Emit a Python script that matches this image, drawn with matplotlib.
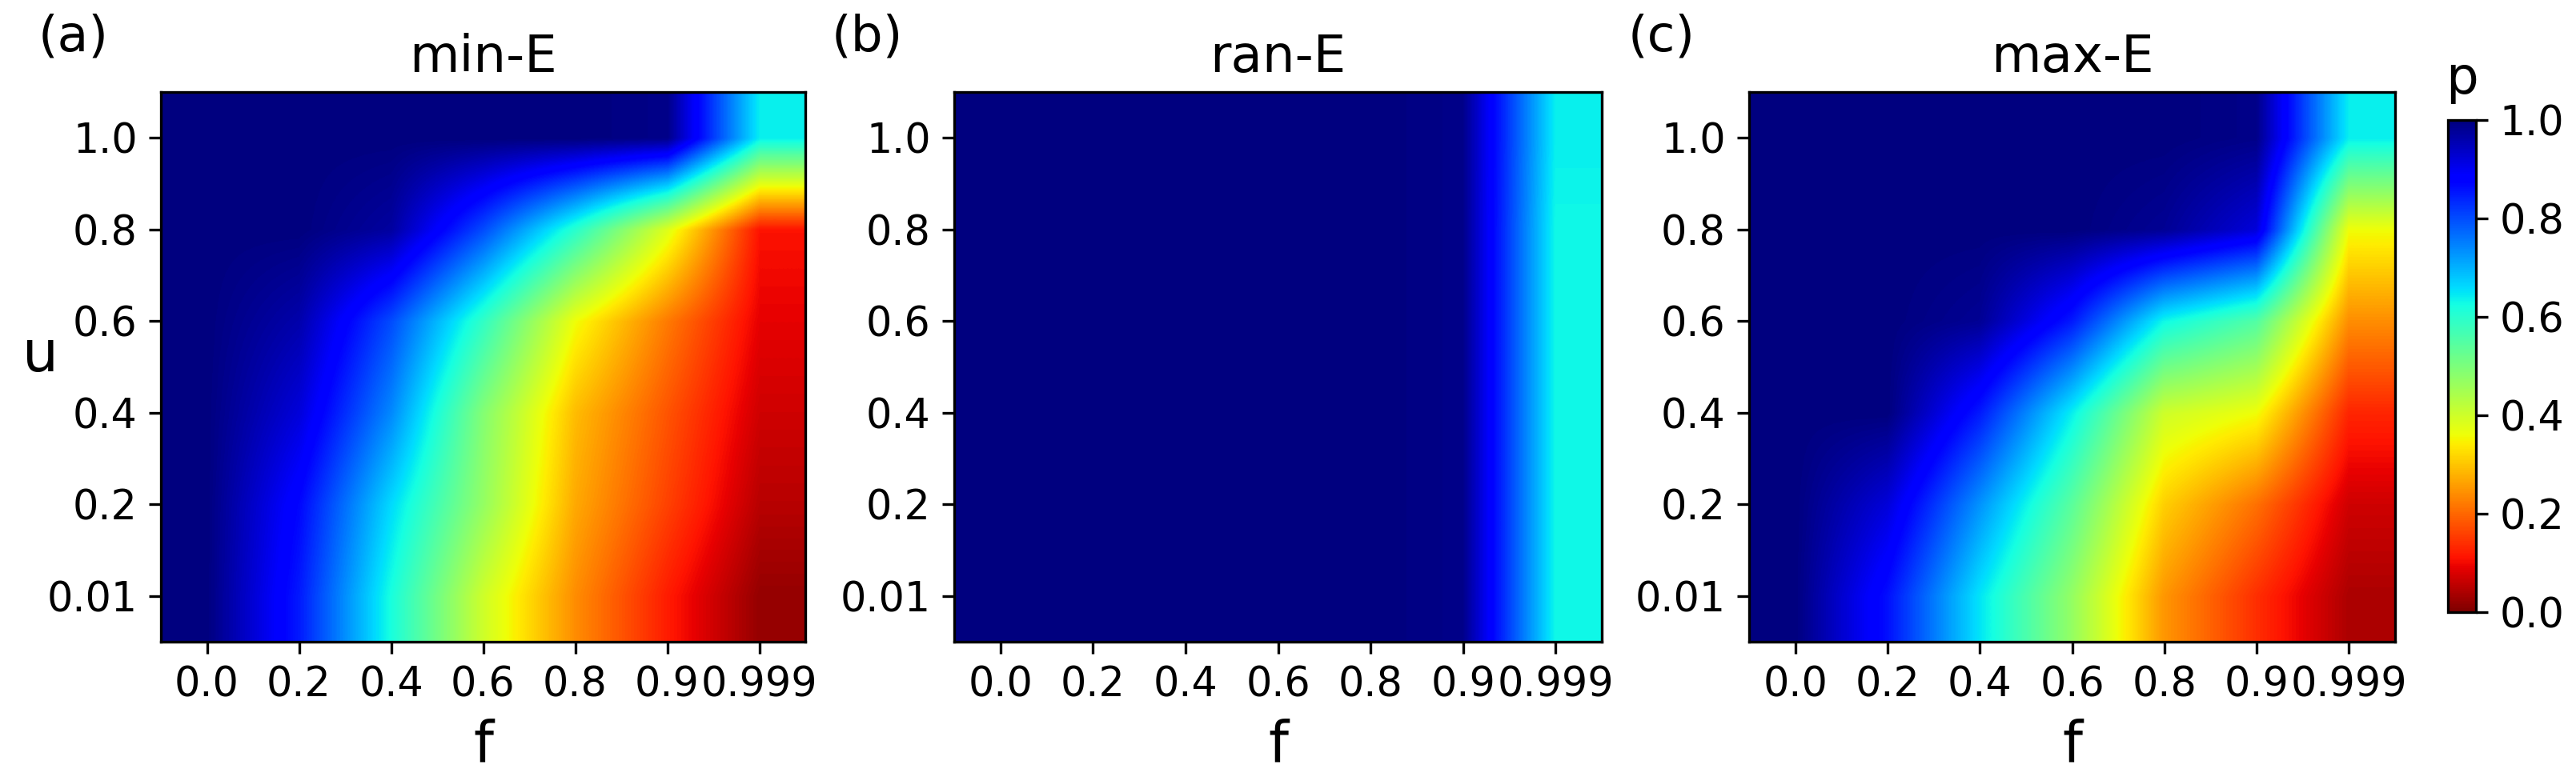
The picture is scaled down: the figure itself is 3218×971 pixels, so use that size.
import matplotlib
matplotlib.use("Agg")
import matplotlib.pyplot as plt
import numpy as np

f_labels = ['0.0', '0.2', '0.4', '0.6', '0.8', '0.9', '0.999']
u_labels = ['0.01', '0.2', '0.4', '0.6', '0.8', '1.0']
titles = ['min-E', 'ran-E', 'max-E']
panel_labels = ['(a)', '(b)', '(c)']

# rows go from u=0.01 up to u=1.0
min_e = [[1.00, 0.85, 0.62, 0.40, 0.24, 0.12, 0.02],
         [1.00, 0.87, 0.66, 0.47, 0.27, 0.16, 0.05],
         [1.00, 0.92, 0.74, 0.49, 0.29, 0.18, 0.07],
         [1.00, 0.96, 0.80, 0.59, 0.36, 0.22, 0.09],
         [1.00, 1.00, 0.97, 0.80, 0.60, 0.38, 0.11],
         [1.00, 1.00, 1.00, 1.00, 1.00, 0.99, 0.64]]
ran_e = [[1.00, 1.00, 1.00, 1.00, 1.00, 0.99, 0.63],
         [1.00, 1.00, 1.00, 1.00, 1.00, 0.99, 0.63],
         [1.00, 1.00, 1.00, 1.00, 1.00, 0.99, 0.63],
         [1.00, 1.00, 1.00, 1.00, 1.00, 0.99, 0.63],
         [1.00, 1.00, 1.00, 1.00, 1.00, 0.99, 0.63],
         [1.00, 1.00, 1.00, 1.00, 1.00, 0.99, 0.64]]
max_e = [[1.00, 0.86, 0.65, 0.47, 0.25, 0.14, 0.04],
         [1.00, 0.92, 0.73, 0.54, 0.31, 0.21, 0.07],
         [1.00, 1.00, 0.85, 0.64, 0.40, 0.36, 0.13],
         [1.00, 1.00, 0.98, 0.85, 0.63, 0.55, 0.24],
         [1.00, 1.00, 1.00, 1.00, 0.98, 0.92, 0.36],
         [1.00, 1.00, 1.00, 1.00, 1.00, 0.99, 0.64]]
panels = [min_e, ran_e, max_e]

W, H = 3218, 971
fig = plt.figure(figsize=(W/300, H/300), dpi=300)

def px_axes(x0, x1, y0, y1):
    return fig.add_axes([x0/W, 1 - y1/H, (x1 - x0)/W, (y1 - y0)/H])

lefts = [201, 1192, 2185]
rights = [1006, 2001, 2992]

for i in range(3):
    ax = px_axes(lefts[i], rights[i], 115, 802)
    im = ax.imshow(np.array(panels[i]), cmap='jet_r', vmin=0, vmax=1, origin='lower',
                   aspect='auto', interpolation='bilinear')
    ax.set_xticks(range(len(f_labels)))
    ax.set_xticklabels(f_labels)
    ax.set_yticks(range(len(u_labels)))
    ax.set_yticklabels(u_labels)
    ax.tick_params(labelsize=12.2)
    ax.set_xlabel('f', fontsize=17)
    ax.set_title(titles[i], fontsize=15.4)
    fig.text((lefts[i] - 109)/W, 1 - 47/H, panel_labels[i], fontsize=15.2, ha='center', va='center')
    if i == 0:
        ax.set_ylabel('u', fontsize=17, rotation=0, labelpad=2, y=0.47)

cax = px_axes(3058, 3093, 150, 765)
cb = fig.colorbar(im, cax=cax)
cb.set_ticks([0, 0.2, 0.4, 0.6, 0.8, 1.0])
cb.ax.tick_params(labelsize=12.2)
cax.set_title('p', fontsize=15.4, pad=8)

fig.savefig('out.png', dpi=300)
